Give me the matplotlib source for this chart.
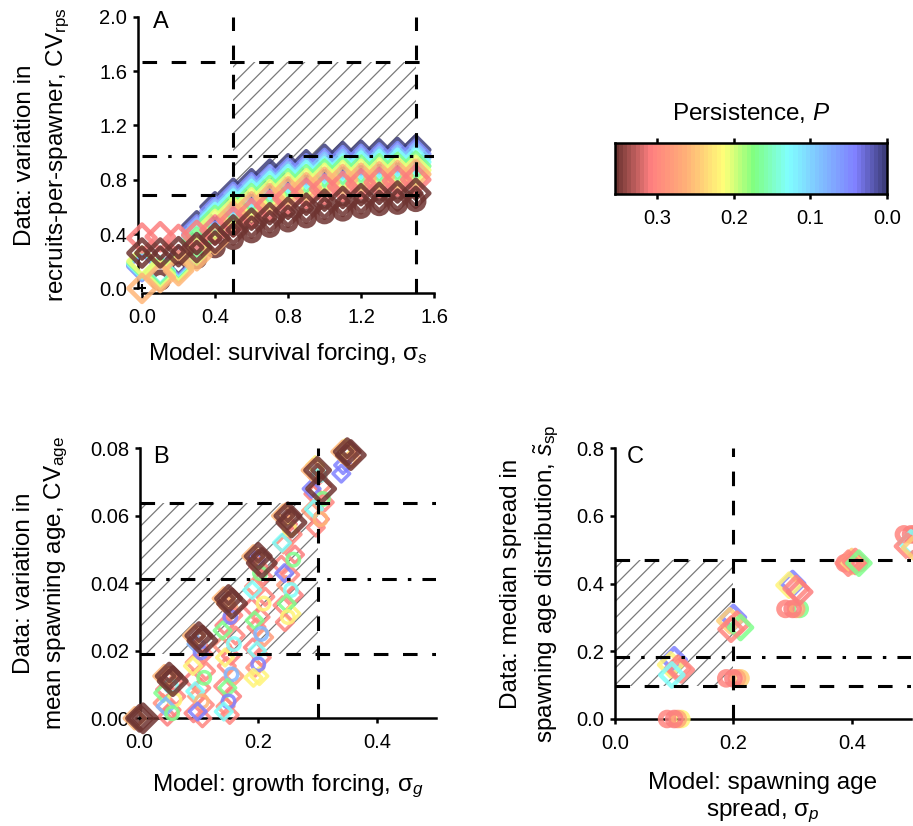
import matplotlib
matplotlib.use("Agg")
import matplotlib.pyplot as plt
from matplotlib.colors import LinearSegmentedColormap, Normalize
from matplotlib.patches import Rectangle
import numpy as np

plt.rcParams['font.family'] = ['Liberation Sans', 'DejaVu Sans']
plt.rcParams['mathtext.fontset'] = 'custom'
plt.rcParams['mathtext.rm'] = 'Liberation Sans'
plt.rcParams['mathtext.it'] = 'Liberation Sans:italic'
plt.rcParams['mathtext.bf'] = 'Liberation Sans:bold'
plt.rcParams['lines.scale_dashes'] = False
plt.rcParams['hatch.linewidth'] = 0.9

# ---------------------------------------------------------------- data
# Persistence colour scale
P_MAX = 0.355
pers_ticks = [0.3, 0.2, 0.1, 0.0]

# Panel A: survival forcing vs CV of recruits-per-spawner
a_x = [0.0, 0.1, 0.2, 0.3, 0.4, 0.5, 0.6, 0.7, 0.8, 0.9, 1.0, 1.1, 1.2, 1.3, 1.4, 1.5]
a_levels = [0.0, 0.05, 0.09, 0.13, 0.17, 0.21, 0.26, 0.31, 0.35]
a_diamonds = [
    [0.17, 0.12, 0.20, 0.46, 0.60, 0.70, 0.77, 0.84, 0.88, 0.91, 0.95, 0.97, 0.98, 0.99, 1.00, 1.02],
    [0.16, 0.11, 0.19, 0.43, 0.57, 0.67, 0.74, 0.80, 0.85, 0.88, 0.92, 0.94, 0.95, 0.96, 0.97, 0.99],
    [0.17, 0.12, 0.18, 0.40, 0.54, 0.64, 0.71, 0.77, 0.82, 0.85, 0.89, 0.91, 0.92, 0.93, 0.94, 0.96],
    [0.18, 0.13, 0.17, 0.37, 0.52, 0.62, 0.69, 0.75, 0.80, 0.83, 0.86, 0.88, 0.90, 0.91, 0.92, 0.93],
    [0.19, 0.12, 0.16, 0.34, 0.50, 0.59, 0.66, 0.72, 0.77, 0.80, 0.84, 0.86, 0.87, 0.88, 0.89, 0.90],
    [0.20, 0.10, 0.15, 0.28, 0.47, 0.56, 0.63, 0.69, 0.74, 0.77, 0.81, 0.83, 0.84, 0.85, 0.86, 0.87],
    [0.00, 0.08, 0.13, 0.24, 0.36, 0.53, 0.60, 0.66, 0.71, 0.74, 0.78, 0.80, 0.81, 0.82, 0.83, 0.84],
    [0.37, 0.38, 0.36, 0.39, 0.43, 0.49, 0.55, 0.61, 0.66, 0.70, 0.73, 0.75, 0.77, 0.78, 0.79, 0.80],
    [0.26, 0.26, 0.27, 0.30, 0.37, 0.43, 0.48, 0.52, 0.56, 0.59, 0.62, 0.64, 0.66, 0.67, 0.68, 0.70],
]
a_circle_x = [0.1, 0.2, 0.3, 0.4, 0.5, 0.6, 0.7, 0.8, 0.9, 1.0, 1.1, 1.2, 1.3, 1.4, 1.5]
a_circles = [0.06, 0.14, 0.22, 0.30, 0.36, 0.41, 0.45, 0.49, 0.52, 0.55, 0.57, 0.59, 0.61, 0.62, 0.64]
a_circle_level = 0.35
a_box = (0.5, 1.5, 0.69, 1.67)        # x0, x1, y0, y1 of data range
a_ref = (0.69, 0.975, 1.67)           # lower, median, upper

# Panel B: growth forcing vs CV of mean spawning age
b_x = [0.00, 0.05, 0.10, 0.15, 0.20, 0.25, 0.30, 0.35]
b_top = [0.000, 0.0125, 0.0245, 0.0355, 0.048, 0.060, 0.0735, 0.079]
b_top2 = [0.000, 0.0110, 0.0230, 0.0340, 0.046, 0.058, 0.0680, 0.078]
b_ladder = [
    [],
    [0.0125, 0.0105, 0.0085, 0.0065, 0.0045, 0.0025, 0.0005],
    [0.0215, 0.019, 0.0165, 0.014, 0.0115, 0.009, 0.0065, 0.004, 0.0015, 0.0],
    [0.033, 0.0305, 0.0275, 0.0245, 0.0215, 0.0185, 0.0155, 0.0125, 0.0095, 0.0065, 0.0035, 0.001],
    [0.045, 0.042, 0.039, 0.036, 0.033, 0.030, 0.027, 0.024, 0.021, 0.018, 0.015, 0.0125],
    [0.0575, 0.0545, 0.0515, 0.0485, 0.0455, 0.0425, 0.0395, 0.0365, 0.0335, 0.031, 0.0285],
    [0.0715, 0.069, 0.0665, 0.064, 0.0615, 0.059, 0.0565],
    [0.079, 0.077, 0.075],
]
b_ladder_p = [
    [],
    [0.27, 0.30, 0.31, 0.30, 0.29, 0.30, 0.31],
    [0.30, 0.31, 0.29, 0.30, 0.31, 0.30, 0.28, 0.30, 0.31, 0.30],
    [0.27, 0.30, 0.31, 0.30, 0.29, 0.31, 0.30, 0.28, 0.30, 0.31, 0.29, 0.30],
    [0.30, 0.31, 0.29, 0.30, 0.31, 0.30, 0.30, 0.28, 0.31, 0.30, 0.29, 0.22],
    [0.31, 0.30, 0.29, 0.31, 0.30, 0.30, 0.28, 0.31, 0.30, 0.22, 0.30],
    [0.30, 0.29, 0.31, 0.30, 0.28, 0.31, 0.30],
    [0.30, 0.27, 0.04],
]
b_mix = [
    [],
    [0.012, 0.0095, 0.0075, 0.0055, 0.0035, 0.0015],
    [0.022, 0.0195, 0.0155, 0.012, 0.008, 0.005, 0.002],
    [0.034, 0.030, 0.026, 0.022, 0.018, 0.013, 0.009, 0.005, 0.002],
    [0.047, 0.043, 0.038, 0.034, 0.029, 0.025, 0.020, 0.016, 0.012],
    [0.061, 0.056, 0.052, 0.047, 0.043, 0.038, 0.034, 0.030],
    [0.075, 0.072, 0.068, 0.065, 0.062, 0.059],
    [0.080, 0.0765, 0.0725],
]
b_mix_p = [
    [],
    [0.26, 0.13, 0.17, 0.22, 0.08, 0.17],
    [0.08, 0.04, 0.22, 0.17, 0.13, 0.26, 0.04],
    [0.26, 0.04, 0.17, 0.13, 0.22, 0.08, 0.17, 0.04, 0.13],
    [0.04, 0.17, 0.13, 0.22, 0.17, 0.08, 0.13, 0.04, 0.22],
    [0.26, 0.22, 0.13, 0.17, 0.04, 0.13, 0.17, 0.22],
    [0.22, 0.13, 0.04, 0.17, 0.13, 0.26],
    [0.22, 0.26, 0.04],
]
b_box = (0.0, 0.3, 0.019, 0.0637)
b_ref = (0.019, 0.0412, 0.0637)

# Panel C: spawning age spread vs median spread of spawning ages
c_x = [0.1, 0.2, 0.3, 0.4, 0.5]
c_circles = [0.0, 0.12, 0.325, 0.46, 0.545]
c_circle_p = [0.22, 0.24, 0.17, 0.30, 0.34]
c_diamonds = [
    [0.175, 0.16, 0.15, 0.145, 0.13],
    [0.30, 0.29, 0.28, 0.27, 0.265],
    [0.40, 0.395, 0.385, 0.375],
    [0.465, 0.46, 0.465, 0.46],
    [0.52, 0.51, 0.505],
]
c_diamond_p = [
    [0.04, 0.22, 0.30, 0.30, 0.13],
    [0.04, 0.24, 0.30, 0.17, 0.30],
    [0.04, 0.22, 0.30, 0.31],
    [0.24, 0.30, 0.30, 0.17],
    [0.13, 0.30, 0.24],
]
c_box = (0.0, 0.2, 0.097, 0.469)
c_ref = (0.097, 0.183, 0.469)

# ---------------------------------------------------------------- styling
cmap = LinearSegmentedColormap.from_list("persist", [
    (0.00, "#3e3e7c"),
    (0.11, "#8080ff"),
    (0.25, "#80c4ff"),
    (0.36, "#80ffff"),
    (0.49, "#80ff80"),
    (0.60, "#ffff78"),
    (0.74, "#ffb078"),
    (0.87, "#ff8080"),
    (1.00, "#6e3431"),
], N=64)
norm = Normalize(0, P_MAX)

DASH = (0, (10.5, 10.5))
DOTDASH = (0, (10.5, 8, 2.5, 8))
REF_LW = 2.2
SPINE_LW = 1.8
TICK_FS = 14.5
LABEL_FS = 17.5
W, H = 913, 826

fig = plt.figure(figsize=(W / 100, H / 100), dpi=100)


def px_axes(x0, x1, ytop, ybot):
    return fig.add_axes([x0 / W, 1 - ybot / H, (x1 - x0) / W, (ybot - ytop) / H])


def style_axes(ax, xticks, yticks, xfmt, yfmt, xb, yb):
    for s in ("top", "right"):
        ax.spines[s].set_visible(False)
    for s in ("left", "bottom"):
        ax.spines[s].set_linewidth(SPINE_LW)
    ax.spines["bottom"].set_bounds(*xb)
    ax.spines["left"].set_bounds(*yb)
    ax.set_xticks(xticks)
    ax.set_yticks(yticks)
    ax.set_xticklabels([xfmt.format(v) for v in xticks])
    ax.set_yticklabels([yfmt.format(v) for v in yticks])
    ax.tick_params(width=SPINE_LW, length=3.6, labelsize=TICK_FS)
    ax.tick_params(axis="x", pad=7)
    ax.tick_params(axis="y", pad=4)


def reference_lines(ax, box, ref, vlines):
    x0, x1, y0, y1 = box
    ax.add_patch(Rectangle((x0, y0), x1 - x0, y1 - y0, fill=False, hatch="//",
                           edgecolor="#7a7a7a", linewidth=0, zorder=1))
    lo, mid, hi = ref
    for y in (lo, hi):
        ax.axhline(y, color="k", lw=REF_LW, ls=DASH, dash_capstyle="butt", zorder=5)
    ax.axhline(mid, color="k", lw=REF_LW, ls=DOTDASH, dash_capstyle="butt", zorder=5)
    for x in vlines:
        ax.axvline(x, color="k", lw=REF_LW, ls=DASH, dash_capstyle="butt", zorder=5)


def pts(ax, x, y, p, marker, s, lw, alpha=0.85, z=3):
    ax.scatter(x, y, s=s, marker=marker, facecolors="none",
               edgecolors=[cmap(norm(v)) for v in np.atleast_1d(p)],
               linewidths=lw, alpha=alpha, clip_on=False, zorder=z)


def set_labels(ax, xl, yl, xpad, ypad, yls=1.45):
    ax.set_xlabel(xl, fontsize=LABEL_FS, labelpad=xpad, linespacing=1.2)
    ax.set_ylabel(yl, fontsize=LABEL_FS, labelpad=ypad, linespacing=yls)


# ---------------------------------------------------------------- panel A
axA = px_axes(142, 434, 16.7, 293.1)
axA.set_xlim(0, 1.6)
axA.set_ylim(-0.035, 2.0)
style_axes(axA, [0.0, 0.4, 0.8, 1.2, 1.6], [0.0, 0.4, 0.8, 1.2, 1.6, 2.0],
           "{:.1f}", "{:.1f}", (0, 1.6), (0, 2.0))
axA.spines["left"].set_position(("outward", 3))
reference_lines(axA, a_box, a_ref, [a_box[0], a_box[1]])
pts(axA, a_circle_x, a_circles, [a_circle_level] * len(a_circles), "o", 130, 4.0, z=2)
for lev, ys in zip(a_levels, a_diamonds):
    pts(axA, a_x, ys, [lev] * len(ys), "D", 190, 3.3)
    if lev >= 0.35:
        pts(axA, a_x, ys, [lev] * len(ys), "D", 34, 3.0, alpha=0.9)
axA.scatter([0.0], [0.0], marker="+", s=40, color="k", lw=1.5, zorder=6, clip_on=False)
set_labels(axA, "Model: survival forcing, σ$_s$",
           "Data: variation in\nrecruits-per-spawner, CV$_{\\rm rps}$", 10, 20)
fig.text(153 / W, 1 - 28 / H, "A", fontsize=17, ha="left", va="baseline")

# ---------------------------------------------------------------- panel B
axB = px_axes(139.5, 436.3, 448.3, 718.3)
axB.set_xlim(0, 0.5)
axB.set_ylim(0, 0.08)
style_axes(axB, [0.0, 0.2, 0.4], [0.0, 0.02, 0.04, 0.06, 0.08],
           "{:.1f}", "{:.2f}", (0, 0.5), (0, 0.08))
reference_lines(axB, b_box, b_ref, [b_box[1]])
jit = [0.0, 0.008, -0.007, 0.012, -0.011, 0.004, -0.003, 0.010, -0.009, 0.006, -0.005, 0.002]
for i, x in enumerate(b_x):
    ys = b_ladder[i]
    if ys:
        xs = [x + jit[k % len(jit)] for k in range(len(ys))]
        pts(axB, xs, ys, b_ladder_p[i], "D", 72, 2.5)
    ym = b_mix[i]
    if ym:
        xs = [x - jit[(k + 5) % len(jit)] for k in range(len(ym))]
        mk = ["o" if k % 2 else "D" for k in range(len(ym))]
        for xx, yy, pp, m in zip(xs, ym, b_mix_p[i], mk):
            pts(axB, [xx], [yy], [pp], m, 80 if m == "o" else 72, 2.5)
pts(axB, [x - 0.008 for x in b_x], b_top, [0.26] * len(b_x), "D", 110, 2.8, z=4)
pts(axB, [x + 0.006 for x in b_x], b_top2, [0.35] * len(b_x), "D", 190, 3.5, z=4)
pts(axB, b_x, b_top, [0.35] * len(b_x), "D", 150, 3.5, z=4)
pts(axB, b_x, b_top, [0.35] * len(b_x), "D", 30, 3.0, z=4)
set_labels(axB, "Model: growth forcing, σ$_g$",
           "Data: variation in\nmean spawning age, CV$_{\\rm age}$", 15, 14)
fig.text(153 / W, 1 - 463 / H, "B", fontsize=17, ha="left", va="baseline")

# ---------------------------------------------------------------- panel C
axC = px_axes(615, 911, 448, 719)
axC.set_xlim(0, 0.5)
axC.set_ylim(0, 0.8)
style_axes(axC, [0.0, 0.2, 0.4], [0.0, 0.2, 0.4, 0.6, 0.8],
           "{:.1f}", "{:.1f}", (0, 0.5), (0, 0.8))
reference_lines(axC, c_box, c_ref, [c_box[1]])
circ_dx = [0.012, -0.012, 0.006, 0.0]
circ_p_cycle = [0.22, 0.30, 0.27, 0.31]
for i, x in enumerate(c_x):
    xs = [x + d for d in circ_dx]
    ps = [c_circle_p[i] if k == 0 else circ_p_cycle[k] for k in range(len(circ_dx))]
    pts(axC, xs, [c_circles[i]] * len(xs), ps, "o", 88, 4.0)
    ys = c_diamonds[i]
    dxs = [0.0, -0.006, 0.006, 0.012, -0.004][:len(ys)]
    pts(axC, [x + d for d in dxs], ys, c_diamond_p[i], "D", 140, 3.2)
set_labels(axC, "Model: spawning age\nspread, σ$_p$",
           "Data: median spread in\nspawning age distribution, $\\tilde{s}_{\\rm sp}$", 14, 11)
fig.text(627 / W, 1 - 463 / H, "C", fontsize=17, ha="left", va="baseline")

# ---------------------------------------------------------------- colour bar
cax = px_axes(615, 887, 143, 194)
grid = np.linspace(0, P_MAX, 400)
cax.pcolormesh(grid, [0, 1], grid[:-1][None, :], cmap=cmap, norm=norm)
cax.set_xlim(P_MAX, 0)
cax.set_ylim(0, 1)
cax.set_yticks([])
cax.set_xticks(pers_ticks)
cax.set_xticklabels(["{:.1f}".format(v) for v in pers_ticks])
cax.tick_params(axis="x", top=True, bottom=True, width=SPINE_LW, length=3.6,
                labelsize=TICK_FS, pad=7)
for s in cax.spines.values():
    s.set_linewidth(SPINE_LW)
fig.text(751 / W, 1 - 113 / H, "Persistence, $P$", fontsize=LABEL_FS, ha="center", va="center")

fig.savefig("out.png", dpi=100)
